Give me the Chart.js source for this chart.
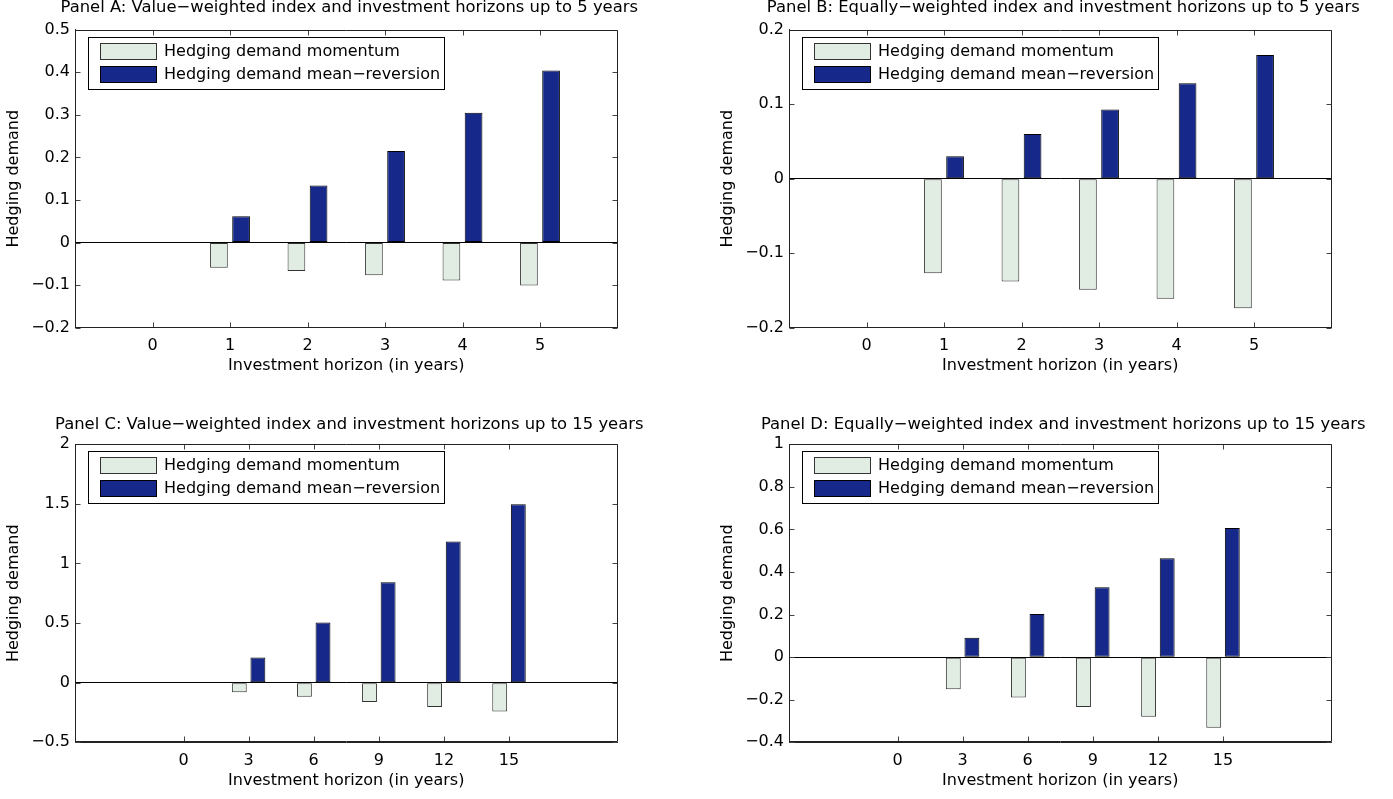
<!DOCTYPE html>
<html>
<head>
<meta charset="utf-8">
<title>Hedging demand</title>
<script src="https://cdn.jsdelivr.net/npm/chart.js@4.4.1/dist/chart.umd.min.js"></script>
<style>
  html, body { margin: 0; padding: 0; background: #fff; overflow: hidden; }
  canvas.panel { position: absolute; }
</style>
</head>
<body>
<canvas id="panelA" class="panel"></canvas>
<canvas id="panelB" class="panel"></canvas>
<canvas id="panelC" class="panel"></canvas>
<canvas id="panelD" class="panel"></canvas>
<script>
// ---- data ----
const horizonsShort = [0, 1, 2, 3, 4, 5];
const horizonsLong = [0, 3, 6, 9, 12, 15];

const momentumA = [0, -0.059, -0.067, -0.077, -0.089, -0.101];
const meanRevA  = [0, 0.062, 0.134, 0.215, 0.305, 0.404];
const momentumB = [0, -0.127, -0.138, -0.149, -0.161, -0.174];
const meanRevB  = [0, 0.030, 0.060, 0.093, 0.128, 0.166];
const momentumC = [0, -0.080, -0.117, -0.161, -0.203, -0.242];
const meanRevC  = [0, 0.212, 0.505, 0.842, 1.185, 1.497];
const momentumD = [0, -0.151, -0.190, -0.234, -0.280, -0.332];
const meanRevD  = [0, 0.091, 0.203, 0.328, 0.464, 0.606];

const yTicksA = [-0.2, -0.1, 0, 0.1, 0.2, 0.3, 0.4, 0.5];
const yTicksB = [-0.2, -0.1, 0, 0.1, 0.2];
const yTicksC = [-0.5, 0, 0.5, 1, 1.5, 2];
const yTicksD = [-0.4, -0.2, 0, 0.2, 0.4, 0.6, 0.8, 1];

const xRangeShort = [-1, 6];
const xRangeLong = [-5, 20];

const seriesNames = ['Hedging demand momentum', 'Hedging demand mean\u2212reversion'];
const xTitle = 'Investment horizon (in years)';
const yTitle = 'Hedging demand';

// ---- look ----
const FONT = 'DejaVu Sans';
const momFill = '#E1EDE3', momEdge = '#333333';
const mrFill = '#16298A', mrEdge = '#000000';
const boxColor = '#222222';

Chart.defaults.font.family = FONT;
Chart.defaults.font.size = 16;
Chart.defaults.color = '#000';

function fmt(v) {
  const s = String(Number(v.toFixed(3)));
  return s.replace('-', '\u2212');
}

// box round the axes, inward tick marks on all four sides, boxed legend
const matlabAxes = {
  id: 'matlabAxes',
  afterDraw(chart) {
    const ctx = chart.ctx;
    const a = chart.chartArea;
    const x = chart.scales.x, y = chart.scales.y;
    const L = 5;
    const l = Math.round(a.left) + 0.5, r = Math.round(a.right) - 0.5;
    const t = Math.round(a.top) + 0.5, b = Math.round(a.bottom) - 0.5;
    ctx.save();
    ctx.lineWidth = 1;
    ctx.strokeStyle = '#444';
    ctx.beginPath();
    for (let i = 0; i < x.ticks.length; i++) {
      const px = Math.round(x.getPixelForTick(i)) + 0.5;
      ctx.moveTo(px, b); ctx.lineTo(px, b - L);
      ctx.moveTo(px, t); ctx.lineTo(px, t + L);
    }
    for (let i = 0; i < y.ticks.length; i++) {
      const py = Math.round(y.getPixelForTick(i)) + 0.5;
      ctx.moveTo(l, py); ctx.lineTo(l + L, py);
      ctx.moveTo(r, py); ctx.lineTo(r - L, py);
    }
    ctx.stroke();

    ctx.strokeStyle = boxColor;
    ctx.beginPath();
    ctx.moveTo(l, t); ctx.lineTo(r, t); ctx.lineTo(r, b); ctx.lineTo(l, b); ctx.closePath();
    ctx.stroke();

    // legend
    const sets = chart.data.datasets;
    ctx.font = '16px "' + FONT + '"';
    const tw = Math.max(...sets.map(d => ctx.measureText(d.label).width));
    const bx = Math.round(a.left + 13), by = Math.round(a.top + 7);
    const bw = Math.round(76 + tw + 4), bh = 52;
    ctx.fillStyle = '#fff';
    ctx.fillRect(bx, by, bw, bh);
    ctx.strokeStyle = '#000';
    ctx.strokeRect(bx + 0.5, by + 0.5, bw, bh);
    sets.forEach((d, i) => {
      const sy = Math.round(by + 6 + i * 22.6);
      ctx.fillStyle = d.backgroundColor;
      ctx.fillRect(bx + 12, sy, 57, 17);
      ctx.strokeStyle = d.borderColor;
      ctx.strokeRect(bx + 12.5, sy + 0.5, 56, 16);
      ctx.fillStyle = '#000';
      ctx.textBaseline = 'middle';
      ctx.textAlign = 'left';
      ctx.fillText(d.label, bx + 76, sy + 9);
    });
    ctx.restore();
  }
};

const panels = [
  { id: 'panelA', left: 0,   top: 0,   title: 'Panel A: Value\u2212weighted index and investment horizons up to 5 years',
    horizons: horizonsShort, xRange: xRangeShort, yTicks: yTicksA, mom: momentumA, mr: meanRevA, tTop: 0, tBottom: 13.3, padBottom: 26 },
  { id: 'panelB', left: 714, top: 0,   title: 'Panel B: Equally\u2212weighted index and investment horizons up to 5 years',
    horizons: horizonsShort, xRange: xRangeShort, yTicks: yTicksB, mom: momentumB, mr: meanRevB, tTop: 0, tBottom: 13.3, padBottom: 26 },
  { id: 'panelC', left: 0,   top: 400, title: 'Panel C: Value\u2212weighted index and investment horizons up to 15 years',
    horizons: horizonsLong, xRange: xRangeLong, yTicks: yTicksC, mom: momentumC, mr: meanRevC, tTop: 16.3, tBottom: 11.5, padBottom: 11.4 },
  { id: 'panelD', left: 714, top: 400, title: 'Panel D: Equally\u2212weighted index and investment horizons up to 15 years',
    horizons: horizonsLong, xRange: xRangeLong, yTicks: yTicksD, mom: momentumD, mr: meanRevD, tTop: 16.3, tBottom: 11.5, padBottom: 11.4 }
];

// the right-hand spacer axis is a little wider than the left one so the
// centred title sits where the original has it
const W = 696, H = 400, Y_AXIS_W = 69, RIGHT_W = 75, X_AXIS_H = 46.3;

panels.forEach(p => {
  const cv = document.getElementById(p.id);
  cv.width = W; cv.height = H;
  cv.style.left = p.left + 'px';
  cv.style.top = p.top + 'px';
  cv.style.width = W + 'px';
  cv.style.height = H + 'px';

  new Chart(cv.getContext('2d'), {
    type: 'bar',
    data: {
      labels: p.horizons,
      datasets: [
        { label: seriesNames[0], data: p.mom, backgroundColor: momFill, borderColor: momEdge,
          borderWidth: 1, borderSkipped: false },
        { label: seriesNames[1], data: p.mr, backgroundColor: mrFill, borderColor: mrEdge,
          borderWidth: 1, borderSkipped: false }
      ]
    },
    options: {
      responsive: false,
      animation: false,
      devicePixelRatio: 1,
      categoryPercentage: 2 / 3.5,
      barPercentage: 0.8,
      layout: { padding: { left: 6, right: 3.5, top: 0, bottom: p.padBottom } },
      plugins: {
        legend: { display: false },
        tooltip: { enabled: false },
        title: {
          display: true,
          text: p.title,
          color: '#000',
          font: { size: 16.4, weight: 'normal', lineHeight: 1 },
          padding: { top: p.tTop, bottom: p.tBottom }
        }
      },
      scales: {
        x: {
          type: 'linear',
          min: p.xRange[0],
          max: p.xRange[1],
          offset: false,
          afterBuildTicks: s => { s.ticks = p.horizons.map(v => ({ value: v })); },
          afterFit: s => { s.height = X_AXIS_H; },
          grid: { display: false, drawTicks: false, offset: false },
          border: { display: true, color: boxColor, width: 1 },
          ticks: { autoSkip: false, padding: 9, maxRotation: 0, callback: v => fmt(v) },
          title: { display: true, text: xTitle, padding: 0, font: { size: 16, lineHeight: 1 } }
        },
        y: {
          type: 'linear',
          min: p.yTicks[0],
          max: p.yTicks[p.yTicks.length - 1],
          afterBuildTicks: s => { s.ticks = p.yTicks.map(v => ({ value: v })); },
          afterFit: s => { s.width = Y_AXIS_W; },
          grid: {
            drawTicks: false,
            color: c => (c.tick && c.tick.value === 0 ? '#000' : 'rgba(0,0,0,0)'),
            lineWidth: 1
          },
          border: { display: true, color: boxColor, width: 1 },
          ticks: { autoSkip: false, padding: 5, callback: v => fmt(v) },
          title: { display: true, text: yTitle, padding: 0, font: { size: 16, lineHeight: 1 } }
        },
        yr: {
          type: 'linear',
          position: 'right',
          display: true,
          afterFit: s => { s.width = RIGHT_W; },
          grid: { display: false, drawTicks: false },
          border: { display: false },
          ticks: { display: false }
        }
      }
    },
    plugins: [matlabAxes]
  });
});
</script>
</body>
</html>
